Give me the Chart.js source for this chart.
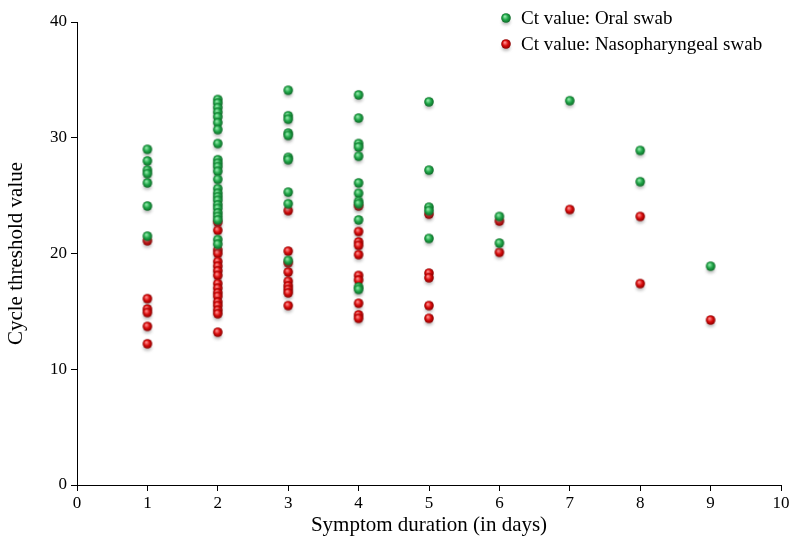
<!DOCTYPE html>
<html>
<head>
<meta charset="utf-8">
<script src="https://cdn.jsdelivr.net/npm/chart.js@4.4.1/dist/chart.umd.min.js"></script>
<style>
  html, body { margin: 0; padding: 0; background: #fff; }
  #wrap { width: 792px; height: 542px; }
</style>
</head>
<body>
<div id="wrap"><canvas id="ctChart" width="792" height="542"></canvas></div>
<script>
// days 1..9, Ct readings per day
const days = [1, 2, 3, 4, 5, 6, 7, 8, 9];
const oralCt = [
  [29.0, 28.0, 27.2, 26.9, 26.1, 24.1, 21.5],
  [33.3, 33.0, 32.6, 32.2, 31.8, 31.3, 30.7, 29.5, 28.1, 27.8, 27.5, 27.1, 26.4, 25.6, 25.2, 24.9, 24.6, 24.2, 23.9, 23.5, 23.2, 22.9, 21.2, 20.8],
  [34.1, 31.9, 31.6, 30.4, 30.2, 28.3, 28.1, 25.3, 24.3, 19.4],
  [33.7, 31.7, 29.5, 29.2, 28.4, 26.1, 25.2, 24.5, 24.3, 22.9, 17.1, 16.9],
  [33.1, 27.2, 24.0, 23.7, 21.3],
  [23.2, 20.9],
  [33.2],
  [28.9, 26.2],
  [18.9]
];
const nasoCt = [
  [21.1, 16.1, 15.2, 14.9, 13.7, 12.2],
  [22.7, 22.0, 20.3, 20.0, 19.3, 18.9, 18.5, 18.1, 17.4, 17.0, 16.6, 16.3, 15.8, 15.5, 15.1, 14.8, 13.2],
  [23.7, 20.2, 19.2, 18.4, 17.6, 17.2, 16.9, 16.6, 15.5],
  [24.1, 21.9, 21.0, 20.7, 19.9, 18.1, 17.7, 15.7, 14.7, 14.4],
  [23.4, 18.3, 17.9, 15.5, 14.4],
  [22.8, 20.1],
  [23.8],
  [23.2, 17.4],
  [14.25]
];
const yTicks = [0, 10, 20, 30, 40];
const seriesLabels = ['Ct value: Oral swab', 'Ct value: Nasopharyngeal swab'];

function toPoints(perDay) {
  const pts = [];
  perDay.forEach((vals, i) => vals.forEach(v => pts.push({ x: days[i], y: v })));
  return pts;
}

// little shaded ball with a soft shadow
function ball(light, base, dark) {
  const c = document.createElement('canvas');
  c.width = 22; c.height = 22;
  const g = c.getContext('2d');
  g.save();
  g.filter = 'blur(1.6px)';
  g.fillStyle = 'rgba(90,90,90,0.4)';
  g.beginPath();
  g.ellipse(11, 15, 4.2, 3, 0, 0, Math.PI * 2);
  g.fill();
  g.restore();
  const grad = g.createRadialGradient(9.8, 9.4, 0.5, 11, 11, 5);
  grad.addColorStop(0, light);
  grad.addColorStop(0.5, base);
  grad.addColorStop(1, dark);
  g.fillStyle = grad;
  g.beginPath();
  g.arc(11, 11, 4.8, 0, Math.PI * 2);
  g.fill();
  return c;
}
const greenBall = ball('#8fe6a6', '#1fa648', '#0c6424');
const redBall = ball('#ff8a8a', '#d80a0a', '#820000');

const serif = '"Liberation Serif", "Times New Roman", serif';

const legendPlugin = {
  id: 'cornerLegend',
  afterDraw(chart) {
    const ctx = chart.ctx;
    ctx.save();
    ctx.font = '19px ' + serif;
    ctx.fillStyle = '#000';
    ctx.textBaseline = 'middle';
    ctx.textAlign = 'left';
    const marks = [greenBall, redBall];
    chart.data.datasets.forEach((ds, i) => {
      const y = 18 + i * 26;
      ctx.drawImage(marks[i], 506 - 11, y - 11);
      ctx.fillText(ds.label, 521, y + 1);
    });
    ctx.restore();
  }
};

new Chart(document.getElementById('ctChart'), {
  type: 'scatter',
  data: {
    datasets: [
      { label: seriesLabels[0], data: toPoints(oralCt), pointStyle: greenBall, pointRadius: 5, pointHoverRadius: 5 },
      { label: seriesLabels[1], data: toPoints(nasoCt), pointStyle: redBall, pointRadius: 5, pointHoverRadius: 5 }
    ]
  },
  options: {
    responsive: false,
    animation: false,
    layout: { padding: { top: 22, right: 11, left: 0, bottom: 0 } },
    plugins: { legend: { display: false }, tooltip: { enabled: false } },
    scales: {
      x: {
        min: 0, max: 10,
        ticks: { stepSize: 1, color: '#000', font: { family: serif, size: 17 }, padding: 2 },
        grid: { drawOnChartArea: false, color: '#000', tickLength: 6 },
        border: { color: '#000', width: 1 },
        title: { display: true, text: 'Symptom duration (in days)', color: '#000', font: { family: serif, size: 21 }, padding: { top: 0 } },
        afterFit: s => { s.height = 57; }
      },
      y: {
        min: 0, max: 40,
        afterBuildTicks: s => { s.ticks = yTicks.map(v => ({ value: v })); },
        ticks: { color: '#000', font: { family: serif, size: 17 }, padding: 4 },
        grid: { drawOnChartArea: false, color: '#000', tickLength: 6 },
        border: { color: '#000', width: 1 },
        title: { display: true, text: 'Cycle threshold value', color: '#000', font: { family: serif, size: 21 }, padding: { bottom: 4 } },
        afterFit: s => { s.width = 77; }
      }
    }
  },
  plugins: [legendPlugin]
});
</script>
</body>
</html>
